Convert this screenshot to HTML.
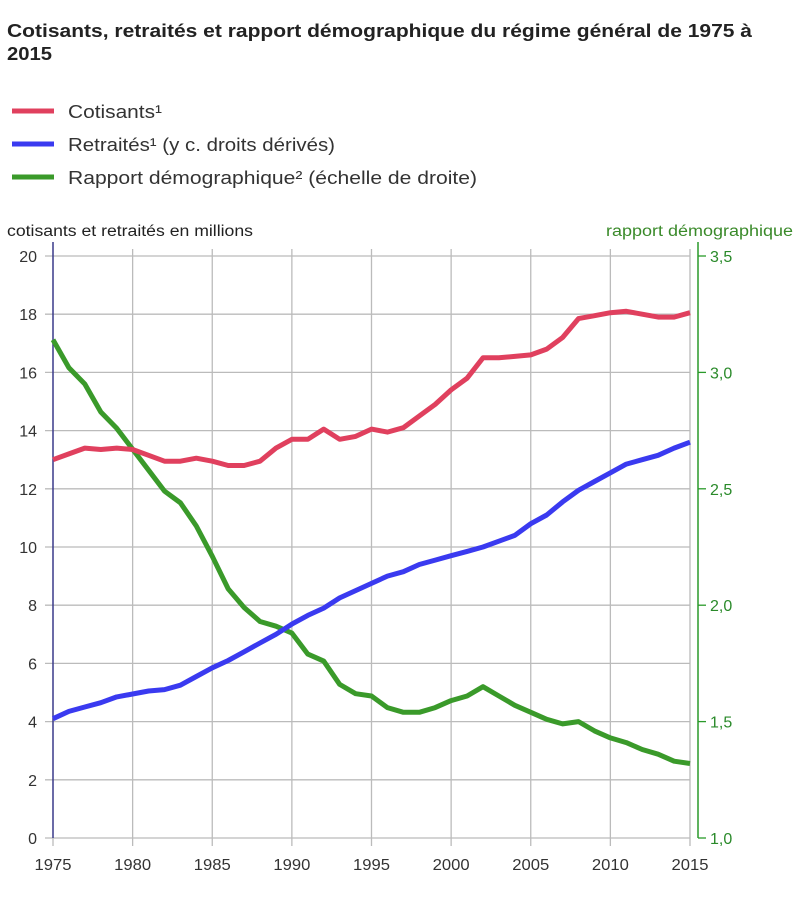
<!DOCTYPE html>
<html><head><meta charset="utf-8"><style>
body{margin:0;background:#fff;width:801px;height:916px;overflow:hidden;font-family:"Liberation Sans","DejaVu Sans",sans-serif}
</style></head><body>
<svg id="s" width="801" height="916" xmlns="http://www.w3.org/2000/svg" font-family="Liberation Sans, DejaVu Sans, sans-serif">
<text x="7" y="37" font-size="18.5" font-weight="bold" fill="#222" textLength="745" lengthAdjust="spacingAndGlyphs">Cotisants, retraités et rapport démographique du régime général de 1975 à</text>
<text x="7" y="60" font-size="18.5" font-weight="bold" fill="#222" textLength="45" lengthAdjust="spacingAndGlyphs">2015</text>
<line x1="12" y1="111" x2="54" y2="111" stroke="#e0405e" stroke-width="5"/>
<text x="68" y="118" font-size="18.5" fill="#333" textLength="94" lengthAdjust="spacingAndGlyphs">Cotisants¹</text>
<line x1="12" y1="144" x2="54" y2="144" stroke="#3a3af0" stroke-width="5"/>
<text x="68" y="151" font-size="18.5" fill="#333" textLength="267" lengthAdjust="spacingAndGlyphs">Retraités¹ (y c. droits dérivés)</text>
<line x1="12" y1="177" x2="54" y2="177" stroke="#3a9a2a" stroke-width="5"/>
<text x="68" y="184" font-size="18.5" fill="#333" textLength="409" lengthAdjust="spacingAndGlyphs">Rapport démographique² (échelle de droite)</text>
<text x="7" y="236" font-size="15.5" fill="#222" textLength="246" lengthAdjust="spacingAndGlyphs">cotisants et retraités en millions</text>
<text x="606" y="236" font-size="15.5" fill="#3a8a2a" textLength="187" lengthAdjust="spacingAndGlyphs">rapport démographique</text>
<g id="grid" stroke="#bbb" stroke-width="1.3"></g>
<g id="lbl" font-size="16" fill="#333"></g>
<line x1="53" y1="242" x2="53" y2="838" stroke="#3a3a8a" stroke-width="1.5"/>
<line x1="698" y1="242" x2="698" y2="838" stroke="#2a9a2a" stroke-width="1.5"/>
<g id="ser" fill="none" stroke-width="5" stroke-linejoin="round"></g>
</svg>
<script>
var ns="http://www.w3.org/2000/svg";
function el(p,t,a,txt){var e=document.createElementNS(ns,t);for(var k in a)e.setAttribute(k,a[k]);if(txt!=null)e.textContent=txt;document.getElementById(p).appendChild(e);}
function X(y){return 53+(y-1975)*15.925;}
function Y(v){return 838-v*29.1;}
function YR(v){return 838-(v-1)*232.8;}
for(var v=0;v<=20;v+=2){el('grid','line',{x1:45,x2:690,y1:Y(v),y2:Y(v)});}
for(var y=1980;y<=2015;y+=5){el('grid','line',{x1:X(y),x2:X(y),y1:249,y2:846});}
el('grid','line',{x1:53,x2:53,y1:838,y2:846});
for(var r=1;r<=3.51;r+=0.5){el('grid','line',{x1:698,x2:706,y1:YR(r),y2:YR(r),stroke:'#2a9a2a'});}
var lb=["0","2","4","6","8","10","12","14","16","18","20"];
for(var i=0;i<=10;i++){el('lbl','text',{x:37,y:Y(i*2)+6,'text-anchor':'end'},lb[i]);}
for(var y=1975;y<=2015;y+=5){el('lbl','text',{x:X(y),y:870,'text-anchor':'middle',textLength:37,lengthAdjust:'spacingAndGlyphs'},""+y);}
var rl=["1,0","1,5","2,0","2,5","3,0","3,5"];
for(var i=0;i<6;i++){el('lbl','text',{x:710,y:YR(1+i*0.5)+6,fill:'#2a8a2a'},rl[i]);}
var c=[13.0,13.2,13.4,13.35,13.4,13.35,13.15,12.95,12.95,13.05,12.95,12.8,12.8,12.95,13.4,13.7,13.7,14.05,13.7,13.8,14.05,13.95,14.1,14.5,14.9,15.4,15.8,16.5,16.5,16.55,16.6,16.8,17.2,17.85,17.95,18.05,18.1,18.0,17.9,17.9,18.05];
var b=[4.1,4.35,4.5,4.65,4.85,4.95,5.05,5.1,5.25,5.55,5.85,6.1,6.4,6.7,7.0,7.35,7.65,7.9,8.25,8.5,8.75,9.0,9.15,9.4,9.55,9.7,9.85,10.0,10.2,10.4,10.8,11.1,11.55,11.95,12.25,12.55,12.85,13.0,13.15,13.4,13.6];
var g=[3.14,3.02,2.95,2.83,2.76,2.67,2.58,2.49,2.44,2.34,2.21,2.07,1.99,1.93,1.91,1.88,1.79,1.76,1.66,1.62,1.61,1.56,1.54,1.54,1.56,1.59,1.61,1.65,1.61,1.57,1.54,1.51,1.49,1.50,1.46,1.43,1.41,1.38,1.36,1.33,1.32];
function pts(a,f){return a.map(function(v,i){return X(1975+i).toFixed(1)+","+f(v).toFixed(1)}).join(" ");}
el('ser','polyline',{points:pts(g,YR),stroke:'#3a9a2a'});
el('ser','polyline',{points:pts(b,Y),stroke:'#3a3af0'});
el('ser','polyline',{points:pts(c,Y),stroke:'#e0405e'});
</script>
</body></html>
